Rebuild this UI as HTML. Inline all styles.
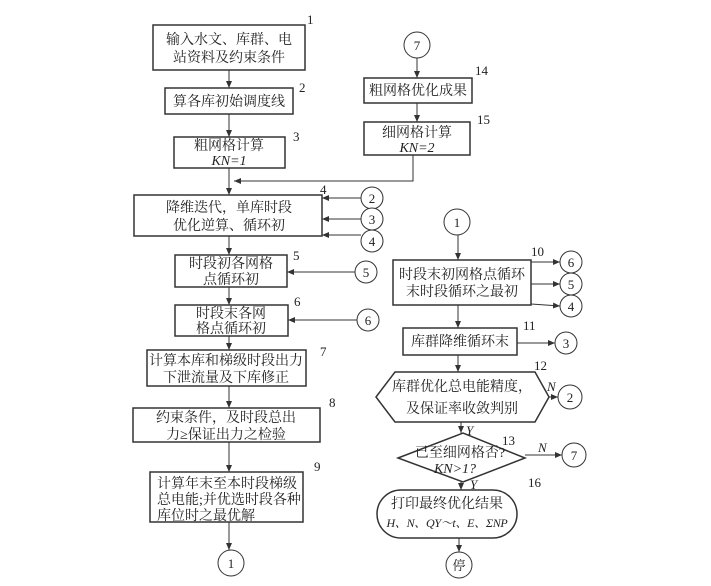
<!DOCTYPE html>
<html><head><meta charset="utf-8"><style>
html,body{margin:0;padding:0;background:#fff;}
svg text{font-family:"Liberation Serif","Noto Serif CJK SC",serif;fill:#222;}
.t{font-size:14px;text-anchor:middle;}
.l{font-size:14px;}
.n{font-size:13px;}
.i{font-style:italic;}
</style></head><body>
<svg width="711" height="581" viewBox="0 0 711 581" xmlns="http://www.w3.org/2000/svg">
<defs><marker id="a" markerWidth="8" markerHeight="8" refX="7" refY="3" orient="auto" markerUnits="userSpaceOnUse"><path d="M0,0 L7,3 L0,6 z" fill="#333"/></marker></defs>
<g stroke="#333" stroke-width="1.5" fill="none">
<rect x="153" y="25" width="152" height="45"/>
<rect x="165" y="88" width="128" height="26"/>
<rect x="174" y="137" width="111" height="31"/>
<rect x="134" y="195" width="188" height="41"/>
<rect x="175" y="255" width="112" height="32"/>
<rect x="175" y="305" width="113" height="31"/>
<rect x="147" y="350" width="159" height="36"/>
<rect x="133" y="408" width="187" height="34"/>
<rect x="150" y="472" width="153" height="50"/>
<rect x="364" y="78" width="108" height="25"/>
<rect x="364" y="122" width="106" height="33"/>
<rect x="393" y="260" width="138" height="45"/>
<rect x="403" y="328" width="114" height="27"/>
<polygon points="376,397 395,372 535,372 549,397 535,422 395,422"/>
<polygon points="398,458 463,433 525,458 463,482"/>
<rect x="377" y="490" width="140" height="48" rx="24"/>
</g>
<g stroke="#333" stroke-width="1" fill="#fff">
<circle cx="417" cy="45" r="13"/>
<circle cx="372" cy="198" r="11"/><circle cx="372" cy="219" r="11"/><circle cx="372" cy="241" r="11"/>
<circle cx="366" cy="272" r="11"/><circle cx="368" cy="320" r="11"/>
<circle cx="231" cy="563" r="13"/>
<circle cx="457" cy="222" r="13"/>
<circle cx="571" cy="262" r="11"/><circle cx="571" cy="284" r="11"/><circle cx="571" cy="306" r="11"/>
<circle cx="566" cy="343" r="11"/>
<circle cx="570" cy="397" r="12"/>
<circle cx="574" cy="455" r="12"/>
<circle cx="459" cy="565" r="13"/>
</g>
<g stroke="#333" stroke-width="1" fill="none" marker-end="url(#a)">
<line x1="229" y1="70" x2="229" y2="88"/>
<line x1="229" y1="114" x2="229" y2="137"/>
<line x1="229" y1="168" x2="229" y2="195"/>
<polyline points="413,155 413,181 234,181"/>
<line x1="361" y1="198" x2="322" y2="198"/>
<line x1="361" y1="219" x2="322" y2="219"/>
<line x1="361" y1="235" x2="322" y2="235"/>
<line x1="229" y1="236" x2="229" y2="255"/>
<line x1="355" y1="272" x2="287" y2="272"/>
<line x1="229" y1="287" x2="229" y2="305"/>
<line x1="357" y1="320" x2="288" y2="320"/>
<line x1="229" y1="336" x2="229" y2="350"/>
<line x1="229" y1="386" x2="229" y2="408"/>
<line x1="229" y1="442" x2="229" y2="472"/>
<line x1="229" y1="522" x2="229" y2="550"/>
<line x1="417" y1="58" x2="417" y2="78"/>
<line x1="417" y1="103" x2="417" y2="122"/>
<line x1="458" y1="235" x2="458" y2="260"/>
<line x1="531" y1="262" x2="560" y2="262"/>
<line x1="531" y1="284" x2="560" y2="284"/>
<line x1="531" y1="304" x2="560" y2="306"/>
<line x1="458" y1="305" x2="458" y2="328"/>
<line x1="517" y1="343" x2="555" y2="343"/>
<line x1="458" y1="355" x2="458" y2="372"/>
<line x1="549" y1="397" x2="558" y2="397"/>
<line x1="461" y1="422" x2="461" y2="433"/>
<line x1="525" y1="455" x2="562" y2="455"/>
<line x1="461" y1="482" x2="461" y2="490"/>
<line x1="459" y1="538" x2="459" y2="552"/>
</g>
<g class="t">
<text x="229" y="44">输入水文、库群、电</text><text x="229" y="62">站资料及约束条件</text>
<text x="229" y="106">算各库初始调度线</text>
<text x="229" y="150">粗网格计算</text><text x="229" y="165" class="i">KN=1</text>
<text x="229" y="212">降维迭代，单库时段</text><text x="229" y="230">优化逆算、循环初</text>
<text x="231" y="268">时段初各网格</text><text x="231" y="284">点循环初</text>
<text x="231" y="318">时段末各网</text><text x="231" y="333">格点循环初</text>
<text x="226" y="365">计算本库和梯级时段出力</text><text x="226" y="382">下泄流量及下库修正</text>
<text x="226" y="422">约束条件，及时段总出</text><text x="226" y="439">力≥保证出力之检验</text>
<text x="418" y="95">粗网格优化成果</text>
<text x="417" y="137">细网格计算</text><text x="417" y="152" class="i">KN=2</text>
<text x="462" y="279">时段末初网格点循环</text><text x="462" y="296">末时段循环之最初</text>
<text x="460" y="346">库群降维循环末</text>
<text x="462" y="391">库群优化总电能精度，</text><text x="462" y="413">及保证率收敛判别</text>
<text x="460" y="457">已至细网格否?</text><text x="455" y="473" class="i">KN&gt;1?</text>
<text x="447" y="508">打印最终优化结果</text><text x="447" y="527" class="i" font-size="12" letter-spacing="-0.3">H、N、QY～t、E、ΣNP</text>
<text x="417" y="50" font-size="13">7</text>
<text x="372" y="203" font-size="13">2</text><text x="372" y="224" font-size="13">3</text><text x="372" y="246" font-size="13">4</text>
<text x="366" y="277" font-size="13">5</text><text x="368" y="325" font-size="13">6</text>
<text x="231" y="568" font-size="13">1</text><text x="457" y="227" font-size="13">1</text>
<text x="571" y="267" font-size="13">6</text><text x="571" y="289" font-size="13">5</text><text x="571" y="311" font-size="13">4</text>
<text x="566" y="348" font-size="13">3</text><text x="570" y="402" font-size="13">2</text><text x="574" y="460" font-size="13">7</text>
<text x="459" y="570" font-size="13">停</text>
</g>
<g class="l">
<text x="157" y="488">计算年末至本时段梯级</text><text x="157" y="504">总电能;并优选时段各种</text><text x="157" y="520">库位时之最优解</text>
</g>
<g class="n">
<text x="307" y="24">1</text><text x="299" y="92">2</text><text x="293" y="141">3</text>
<text x="320" y="194">4</text><text x="293" y="260">5</text><text x="294" y="306">6</text>
<text x="320" y="356">7</text><text x="329" y="407">8</text><text x="314" y="471">9</text>
<text x="475" y="75">14</text><text x="477" y="124">15</text>
<text x="531" y="256">10</text><text x="523" y="330">11</text><text x="534" y="370">12</text>
<text x="502" y="445">13</text><text x="528" y="487">16</text>
<text x="547" y="391" class="i">N</text><text x="538" y="452" class="i">N</text>
<text x="466" y="435" class="i">Y</text><text x="470" y="489" class="i">Y</text>
</g>
</svg>
</body></html>
